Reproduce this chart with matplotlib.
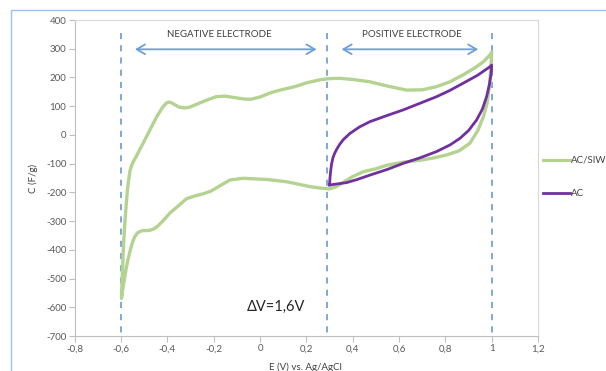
import matplotlib
matplotlib.use("Agg")
import matplotlib.pyplot as plt
from matplotlib.lines import Line2D
from matplotlib.patches import Rectangle
from matplotlib.ticker import FuncFormatter

plt.rcParams["font.family"] = ["Lato", "DejaVu Sans"]

# AC/SIW, forward scan -0.6 -> 1.0
siw_up_x = [-0.598, -0.594, -0.589, -0.583, -0.577, -0.572, -0.567, -0.562, -0.556,
            -0.548, -0.530, -0.504, -0.475, -0.446, -0.420, -0.405, -0.396, -0.385,
            -0.370, -0.350, -0.330, -0.310, -0.290, -0.270, -0.230, -0.190, -0.151,
            -0.110, -0.070, -0.040, 0.000, 0.050, 0.087, 0.150, 0.200, 0.259, 0.300,
            0.345, 0.400, 0.474, 0.550, 0.633, 0.700, 0.762, 0.820, 0.877, 0.930,
            0.965, 0.992, 1.000]
siw_up_y = [-568, -480, -380, -300, -235, -190, -155, -128, -110,
            -95, -68, -28, 18, 63, 97, 110, 114, 113,
            106, 97, 94, 95, 101, 108, 121, 133, 135,
            130, 125, 124, 132, 148, 156, 168, 181, 192, 196,
            197, 193, 185, 170, 156, 157, 168, 185, 209, 235,
            255, 278, 288]

# AC/SIW, reverse scan 1.0 -> -0.6
siw_dn_x = [1.000, 0.999, 0.992, 0.980, 0.964, 0.940, 0.906, 0.860, 0.805, 0.750,
            0.700, 0.618, 0.550, 0.500, 0.446, 0.400, 0.360, 0.330, 0.300, 0.259,
            0.216, 0.115, 0.029, -0.073, -0.130, -0.173, -0.210, -0.245, -0.280,
            -0.317, -0.350, -0.389, -0.420, -0.445, -0.461, -0.475, -0.490, -0.505,
            -0.518, -0.530, -0.542, -0.553, -0.563, -0.573, -0.582, -0.590, -0.595,
            -0.598]
siw_dn_y = [288, 272, 180, 110, 63, 15, -29, -55, -70, -80,
            -87, -95, -105, -118, -128, -145, -165, -180, -188, -185,
            -180, -163, -155, -151, -157, -177, -195, -205, -212,
            -222, -245, -272, -300, -320, -328, -332, -333, -333,
            -336, -342, -356, -380, -410, -445, -485, -525, -550,
            -568]

# AC, forward and reverse scans
ac_up_x = [0.300, 0.302, 0.305, 0.309, 0.314, 0.321, 0.331, 0.343, 0.360, 0.388,
           0.430, 0.474, 0.550, 0.618, 0.690, 0.762, 0.820, 0.877, 0.940, 0.992,
           1.000]
ac_up_y = [-174, -150, -125, -101, -82, -66, -50, -34, -16, 5,
           28, 46, 68, 87, 110, 133, 155, 180, 208, 237,
           243]
ac_dn_x = [1.000, 0.999, 0.996, 0.990, 0.978, 0.960, 0.935, 0.900, 0.863, 0.820,
           0.762, 0.690, 0.618, 0.550, 0.474, 0.420, 0.374, 0.330, 0.302, 0.300]
ac_dn_y = [243, 226, 205, 175, 133, 90, 52, 15, -12, -35,
           -58, -80, -99, -120, -140, -155, -166, -171, -174, -174]

limits_x = [-0.6, 0.29, 1.0]
x_ticks = [-0.8, -0.6, -0.4, -0.2, 0, 0.2, 0.4, 0.6, 0.8, 1.0, 1.2]
y_ticks = list(range(-700, 401, 100))

GREEN = "#b4d391"
PURPLE = "#7030a0"
BLUE = "#5b8fd0"
ARROW = "#6f9fd8"
TEXT = "#404040"


def comma(v, _pos=None):
    return f"{v:g}".replace(".", ",")


fig = plt.figure(figsize=(6.06, 3.71), dpi=100)
W, H = 606, 371
ax = fig.add_axes([74.7 / W, 1 - 336 / H, (538 - 74.7) / W, (336 - 20) / H])

# outer chart frame (cropped on the right and bottom)
fig.patches.append(Rectangle((11 / W, -0.1), 1.2, 1 - 10 / H + 0.1,
                             transform=fig.transFigure, fill=False,
                             edgecolor="#9dc3e6", linewidth=1.0))

for x in limits_x:
    ax.plot([x, x], [355, -700], color=BLUE, linestyle=(0, (4, 4)),
            linewidth=1.1, zorder=2)

ax.plot(siw_up_x + siw_dn_x, siw_up_y + siw_dn_y, color=GREEN, linewidth=2.4,
        solid_capstyle="round", solid_joinstyle="round", zorder=3)
ax.plot(ac_up_x + ac_dn_x, ac_up_y + ac_dn_y, color=PURPLE, linewidth=2.0,
        solid_joinstyle="round", zorder=4)

arrow = dict(arrowstyle="<->,head_length=0.6,head_width=0.35", color=ARROW, lw=1.3,
             shrinkA=0, shrinkB=0)
ax.annotate("", xy=(0.244, 298), xytext=(-0.54, 298), arrowprops=arrow)
ax.annotate("", xy=(0.942, 298), xytext=(0.352, 298), arrowprops=arrow)
ax.text(-0.177, 350, "NEGATIVE ELECTRODE", ha="center", va="center",
        fontsize=7, color=TEXT)
ax.text(0.654, 350, "POSITIVE ELECTRODE", ha="center", va="center",
        fontsize=7, color=TEXT)
ax.text(0.07, -600, "\u0394V=1,6V", ha="center", va="center", fontsize=10.5,
        color="#262626")

ax.set_xlim(-0.8, 1.2)
ax.set_ylim(-700, 400)
ax.set_xticks(x_ticks)
ax.set_yticks(y_ticks)
ax.xaxis.set_major_formatter(FuncFormatter(comma))
ax.yaxis.set_major_formatter(FuncFormatter(comma))
ax.tick_params(axis="both", direction="out", length=4, width=0.8, color="#bfbfbf",
               labelsize=7, labelcolor="#595959", pad=2)
for side in ["top", "right"]:
    ax.spines[side].set_color("#d9d9d9")
for side in ["left", "bottom"]:
    ax.spines[side].set_color("#bfbfbf")
for sp in ax.spines.values():
    sp.set_linewidth(0.8)

ax.set_ylabel("C (F/g)", fontsize=7, color="#404040", labelpad=6)
fig.text(305 / W, 1 - 362 / H, "E (V) vs. Ag/AgCl", ha="center", va="top",
         fontsize=7, color="#404040")

# legend drawn outside the plot area
for y_px, col, lbl, lw in [(160, GREEN, "AC/SIW", 2.2), (193, PURPLE, "AC", 2.0)]:
    fig.lines.append(Line2D([543 / W, 570 / W], [1 - y_px / H, 1 - y_px / H],
                            transform=fig.transFigure, color=col, linewidth=lw))
    fig.text(571 / W, 1 - y_px / H, lbl, ha="left", va="center", fontsize=7,
             color="#404040")

fig.savefig("out.png", dpi=100)
